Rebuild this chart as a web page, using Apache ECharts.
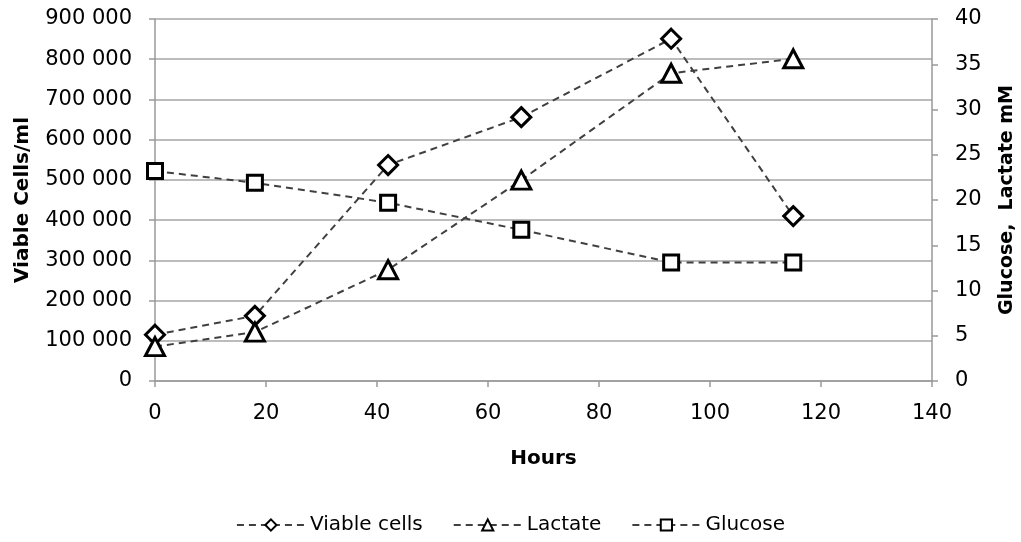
<!DOCTYPE html>
<html><head><meta charset="utf-8">
<script src="https://cdn.jsdelivr.net/npm/echarts@6/dist/echarts.min.js"></script>
<style>html,body{margin:0;padding:0;background:#fff}#c{width:1021px;height:542px}</style>
</head><body><div id="c"></div>
<script>
const hours = [0, 18, 42, 66, 93, 115];
const viableCells = [115000, 162000, 537000, 656000, 851000, 410000];
const lactate = [3.8, 5.4, 12.3, 22.2, 34.0, 35.6];
const glucose = [23.2, 21.9, 19.7, 16.7, 13.1, 13.1];
const seriesNames = ['Viable cells', 'Lactate', 'Glucose'];

const FONT = '"DejaVu Sans", Verdana, sans-serif';
const lineStyle = {color: '#404040', width: 2, type: [7, 5]};
const itemStyle = {color: '#fff', borderColor: '#000', borderWidth: 3};
function pairs(xs, ys){ return xs.map((x,i)=>[x, ys[i]]); }
const nameStyle = {fontFamily: FONT, fontSize: 20, fontWeight: 'bold', color: '#000'};
const axLine = {show: true, lineStyle: {color: '#999', width: 1.5}};
const axTick = {show: true, length: 6, lineStyle: {color: '#999', width: 1.5}};

const chart = echarts.init(document.getElementById('c'), null, {renderer:'canvas'});
chart.setOption({
  animation: false,
  backgroundColor: '#fff',
  textStyle: {fontFamily: FONT},
  grid: {left: 155, right: 89, top: 19, bottom: 161, containLabel: false, outerBoundsMode: 'none'},
  legend: {
    bottom: 2, left: 'center', itemGap: 30, itemWidth: 68, itemHeight: 14,
    textStyle: {fontFamily: FONT, fontSize: 20, color: '#000'},
    data: seriesNames
  },
  xAxis: {
    type: 'value', min: 0, max: 140, interval: 20,
    name: 'Hours', nameLocation: 'middle', nameGap: 68, nameTextStyle: nameStyle,
    axisLine: axLine, axisTick: axTick,
    axisLabel: {fontFamily: FONT, fontSize: 21, color: '#000', margin: 22},
    splitLine: {show: false}
  },
  yAxis: [{
    type: 'value', min: 0, max: 900000, interval: 100000, position: 'left',
    name: 'Viable Cells/ml', nameLocation: 'middle', nameGap: 122, nameRotate: 90,
    nameTextStyle: nameStyle, axisLine: axLine, axisTick: axTick,
    axisLabel: {fontFamily: FONT, fontSize: 21, color: '#000', margin: 23,
      formatter: v => v === 0 ? '0' : String(v).replace(/\B(?=(\d{3})+(?!\d))/g, ' ')},
    splitLine: {show: true, lineStyle: {color: '#a6a6a6', width: 1.5}}
  }, {
    type: 'value', min: 0, max: 40, interval: 5, position: 'right',
    name: 'Glucose,  Lactate mM', nameLocation: 'middle', nameGap: 66, nameRotate: 90,
    nameTextStyle: Object.assign({}, nameStyle, {fontSize: 19}), axisLine: axLine, axisTick: axTick,
    axisLabel: {fontFamily: FONT, fontSize: 21, color: '#000', margin: 23},
    splitLine: {show: false}
  }],
  series: [{
    name: seriesNames[0], type: 'line', yAxisIndex: 0,
    data: pairs(hours, viableCells),
    symbol: 'diamond', symbolSize: 19, lineStyle, itemStyle
  }, {
    name: seriesNames[1], type: 'line', yAxisIndex: 1,
    data: pairs(hours, lactate),
    symbol: 'triangle', symbolSize: [19, 18], lineStyle, itemStyle
  }, {
    name: seriesNames[2], type: 'line', yAxisIndex: 1,
    data: pairs(hours, glucose),
    symbol: 'rect', symbolSize: 15, lineStyle, itemStyle
  }]
});
</script></body></html>
